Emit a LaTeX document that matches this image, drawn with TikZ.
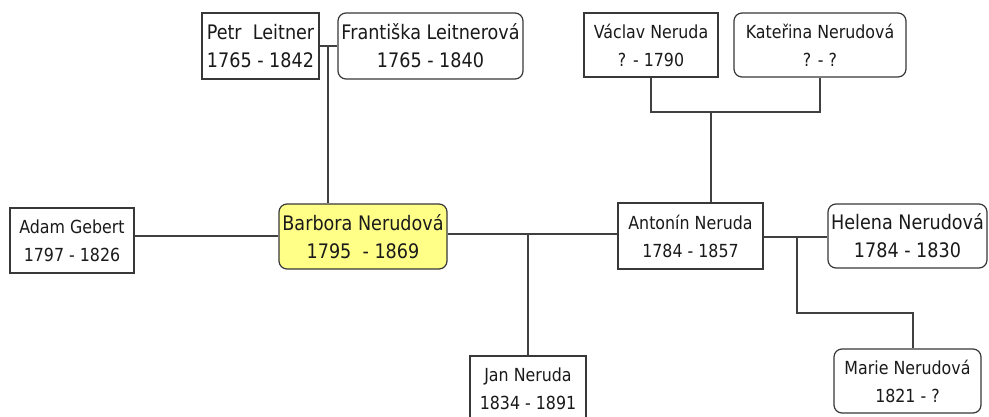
\documentclass[tikz,border=0pt]{standalone}
\usepackage{fontspec}
\setmainfont{DejaVu Sans}[FakeStretch=0.88]
\definecolor{edge}{HTML}{404040}
\definecolor{boxline}{HTML}{383838}
\definecolor{ink}{HTML}{1A1A1A}
\definecolor{hilite}{HTML}{FFFF88}
\tikzset{
  person/.style={draw=boxline, line width=1.2pt, fill=white, text=ink, inner sep=0pt, align=center},
  sharpbox/.style={person},
  roundbox/.style={person, rounded corners=8pt},
  smalltext/.style={font=\fontsize{18}{28}\selectfont},
  bigtext/.style={font=\fontsize{20}{28}\selectfont},
  link/.style={draw=edge, line width=1.3pt}
}
\begin{document}
\begin{tikzpicture}[x=1pt,y=-1pt]
\useasboundingbox (0,0) rectangle (989,416);
\clip (0,0) rectangle (989,416);
\fill[white] (0,0) rectangle (989,416);

\node[sharpbox,bigtext,minimum width=117pt,minimum height=66pt] (petr) at (260.5,46) {Petr~~Leitner\\1765 - 1842};
\node[roundbox,bigtext,minimum width=185pt,minimum height=66pt] (frant) at (430.5,46) {Františka Leitnerová\\1765 - 1840};
\node[sharpbox,smalltext,minimum width=134pt,minimum height=64pt] (vaclav) at (651,45) {Václav Neruda\\? - 1790};
\node[roundbox,smalltext,minimum width=172pt,minimum height=64pt] (katerina) at (820,45) {Kateřina Nerudová\\? - ?};
\node[sharpbox,smalltext,minimum width=124pt,minimum height=65pt] (adam) at (72,240.5) {Adam Gebert\\1797 - 1826};
\node[roundbox,bigtext,fill=hilite,minimum width=168pt,minimum height=65pt] (barbora) at (363,236.5) {Barbora Nerudová\\1795~~- 1869};
\node[sharpbox,smalltext,minimum width=145pt,minimum height=66pt] (antonin) at (690.5,236) {Antonín Neruda\\1784 - 1857};
\node[roundbox,bigtext,minimum width=159pt,minimum height=64pt] (helena) at (907.5,236) {Helena Nerudová\\1784 - 1830};
\node[sharpbox,smalltext,minimum width=116pt,minimum height=65pt] (jan) at (528,388.5) {Jan Neruda\\1834 - 1891};
\node[roundbox,smalltext,minimum width=147pt,minimum height=64pt] (marie) at (907.5,381) {Marie Nerudová\\1821 - ?};

% Leitner couple -> Barbora
\coordinate (pf) at (328,46);
\draw[link] (petr.east) -- (frant.west);
\draw[link] (pf) -- (pf |- barbora.north);

% Neruda parents -> Antonin
\coordinate (vk) at (711,112);
\draw[link] (vaclav.south) |- (vk) -| (katerina.south);
\draw[link] (vk) -- (vk |- antonin.north);

% Adam -- Barbora
\coordinate (ab) at (200,236);
\draw[link] (adam.east |- ab) -- (barbora.west |- ab);

% Barbora -- Antonin, child Jan
\coordinate (ba) at (528,234);
\draw[link] (barbora.east |- ba) -- (antonin.west |- ba);
\draw[link] (ba) -- (jan.north);

% Antonin -- Helena, child Marie
\coordinate (ah) at (797,237);
\coordinate (mbend) at (913,313);
\draw[link] (antonin.east |- ah) -- (helena.west |- ah);
\draw[link] (ah) |- (mbend) -- (mbend |- marie.north);
\end{tikzpicture}
\end{document}
